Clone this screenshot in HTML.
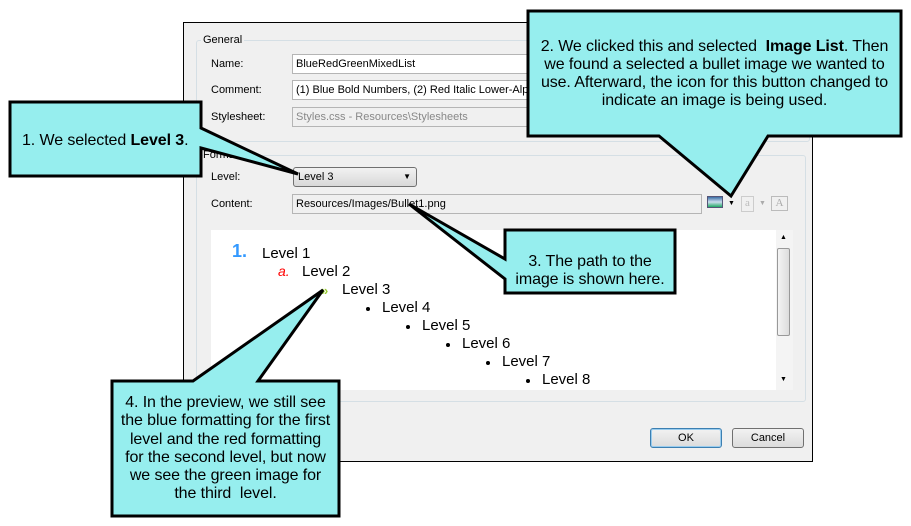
<!DOCTYPE html>
<html><head><style>
body{margin:0;width:911px;height:526px;background:#fff;position:relative;overflow:hidden;font-family:"Liberation Sans",sans-serif}
.a{position:absolute}
.lbl{position:absolute;font-size:11px;color:#000}
.in{position:absolute;background:#fff;border:1px solid #b5b5b5;font-size:11px;line-height:18px;padding-left:3px;box-sizing:border-box;height:20px;white-space:nowrap;overflow:hidden}
.grp{position:absolute;border:1px solid #d5dfe5;border-radius:3px}
.pv{position:absolute;font-size:15px;color:#000;white-space:nowrap}
.dot{position:absolute;width:4px;height:4px;border-radius:2px;background:#000}
.btn{position:absolute;height:20px;box-sizing:border-box;border:1px solid #707070;border-radius:3px;background:linear-gradient(#f2f2f2,#dcdcdc);font-size:11px;text-align:center;line-height:18px}
.ct{position:absolute;font-size:16px;color:#000;text-align:center;line-height:18px;white-space:nowrap;letter-spacing:-0.1px}
</style></head><body>
<div class="a" style="left:183px;top:22px;width:630px;height:440px;background:#f0f0f0;border:1px solid #000;box-sizing:border-box"></div>
<div class="grp" style="left:196px;top:40px;width:612px;height:100px"></div>
<div class="lbl" style="left:201px;top:34px;background:#f0f0f0;padding:0 2px">General</div>
<div class="lbl" style="left:211px;top:58px">Name:</div>
<div class="lbl" style="left:211px;top:84px">Comment:</div>
<div class="lbl" style="left:211px;top:111px">Stylesheet:</div>
<div class="in" style="left:292px;top:54px;width:320px">BlueRedGreenMixedList</div>
<div class="in" style="left:292px;top:80px;width:320px">(1) Blue Bold Numbers, (2) Red Italic Lower-Alpha</div>
<div class="in" style="left:292px;top:107px;width:320px;background:#f0f0f0;color:#888">Styles.css - Resources\Stylesheets</div>
<div class="grp" style="left:196px;top:155px;width:608px;height:245px"></div>
<div class="lbl" style="left:203px;top:149px;background:#f0f0f0">Format</div>
<div class="lbl" style="left:211px;top:171px">Level:</div>
<div class="lbl" style="left:211px;top:198px">Content:</div>
<div class="a" style="left:293px;top:167px;width:124px;height:20px;box-sizing:border-box;border:1px solid #707070;border-radius:3px;background:linear-gradient(#f2f2f2,#d8d8d8);font-size:11px;line-height:18px;padding-left:4px">Level 3<span style="position:absolute;right:5px;top:0;font-size:8px">▼</span></div>
<div class="in" style="left:292px;top:194px;width:410px;background:#f0f0f0">Resources/Images/Bullet1.png</div>
<div class="a" style="left:707px;top:196px;width:14px;height:10px;border:1px solid #557;background:linear-gradient(#3a6ea5,#cde 50%,#2a6 100%)"></div>
<div class="a" style="left:728px;top:200px;font-size:7px">▼</div>
<div class="a" style="left:741px;top:196px;width:11px;height:14px;border:1px solid #ccc;color:#bbb;font-size:11px;text-align:center;font-family:'Liberation Serif'">a</div>
<div class="a" style="left:759px;top:200px;font-size:7px;color:#aaa">▼</div>
<div class="a" style="left:771px;top:196px;width:15px;height:13px;border:1px solid #bbb;color:#aaa;font-size:11px;text-align:center;font-family:'Liberation Serif'">A</div>
<div class="a" style="left:211px;top:230px;width:582px;height:160px;background:#fff"></div>
<div class="a" style="left:776px;top:230px;width:17px;height:160px;background:#f4f4f4"></div>
<div class="a" style="left:777px;top:248px;width:13px;height:88px;border:1px solid #999;border-radius:2px;background:linear-gradient(90deg,#f4f4f4,#dcdcdc);box-sizing:border-box"></div>
<div class="a" style="left:780px;top:234px;font-size:7px">▲</div>
<div class="a" style="left:780px;top:376px;font-size:7px">▼</div>
<div class="pv" style="left:232px;top:241px;color:#3399ff;font-weight:bold;font-size:18px">1.</div>
<div class="pv" style="left:262px;top:245px">Level 1</div>
<div class="pv" style="left:278px;top:263px;color:#f00;font-style:italic;font-size:14px">a.</div>
<div class="pv" style="left:302px;top:263px">Level 2</div>
<div class="pv" style="left:321px;top:283px;color:#9c3;font-size:13px;font-weight:bold">»</div>
<div class="pv" style="left:342px;top:281px">Level 3</div>
<div class="dot" style="left:366px;top:307px"></div><div class="pv" style="left:382px;top:299px">Level 4</div>
<div class="dot" style="left:406px;top:325px"></div><div class="pv" style="left:422px;top:317px">Level 5</div>
<div class="dot" style="left:446px;top:343px"></div><div class="pv" style="left:462px;top:335px">Level 6</div>
<div class="dot" style="left:486px;top:361px"></div><div class="pv" style="left:502px;top:353px">Level 7</div>
<div class="dot" style="left:526px;top:379px"></div><div class="pv" style="left:542px;top:371px">Level 8</div>
<div class="btn" style="left:650px;top:428px;width:72px;border-color:#3c7fb1;box-shadow:inset 0 0 0 1px #9ce">OK</div>
<div class="btn" style="left:732px;top:428px;width:72px">Cancel</div>
<svg class="a" style="left:0;top:0" width="911" height="526">
<g fill="#96eeee" stroke="#000" stroke-width="3" stroke-linejoin="miter">
<polygon points="10,102 201,102 201,128 298,174 201,148 201,176 10,176"/>
<polygon points="528,11 901,11 901,136 768,136 731,196 659,136 528,136"/>
<polygon points="505,230 675,230 675,293 505,293 505,279 409,204 505,259"/>
<polygon points="112,381 193,381 323,290 258,381 339,381 339,516 112,516"/>
</g></svg>
<div class="ct" style="left:10px;top:132px;width:191px;text-align:left;padding-left:12px">1. We selected <b>Level 3</b>.</div>
<div class="ct" style="left:528px;top:38px;width:373px">2. We clicked this and selected &nbsp;<b>Image List</b>. Then<br>we found a selected a bullet image we wanted to<br>use. Afterward, the icon for this button changed to<br>indicate an image is being used.</div>
<div class="ct" style="left:505px;top:253px;width:170px">3. The path to the<br>image is shown here.</div>
<div class="ct" style="left:112px;top:394px;width:227px;line-height:18.3px">4. In the preview, we still see<br>the blue formatting for the first<br>level and the red formatting<br>for the second level, but now<br>we see the green image for<br>the third &nbsp;level.</div>
</body></html>
